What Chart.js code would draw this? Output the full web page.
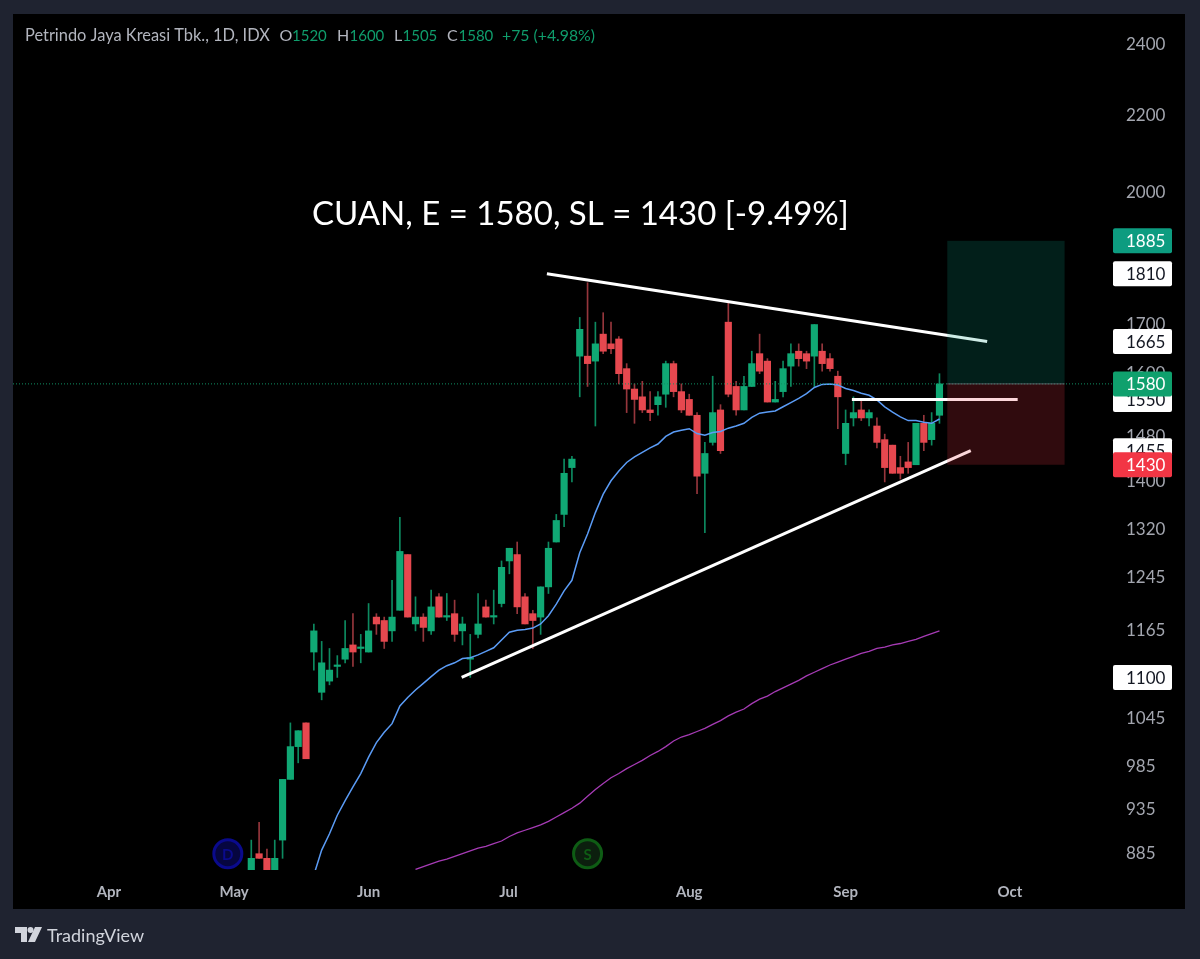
<!DOCTYPE html>
<html>
<head>
<meta charset="utf-8">
<title>CUAN</title>
<script src="https://cdn.jsdelivr.net/npm/chart.js@4/dist/chart.umd.min.js"></script>
<style>
  html, body { margin: 0; padding: 0; background: #1f2330; }
  canvas { display: block; }
</style>
</head>
<body>
<canvas id="chart" width="1200" height="959"></canvas>
<script>
// daily bars, left to right
const opens = [860,885,880,860,900,970,1010,1040,1135,1080,1095,1115,1125,1145,1140,1135,1185,1180,1165,1195,1280,1175,1185,1165,1215,1185,1190,1165,1125,1160,1200,1185,1205,1270,1280,1215,1190,1185,1230,1300,1345,1425,
  1635,1635,1625,1680,1660,1670,1610,1570,1555,1530,1540,1560,1620,1565,1550,1520,1415,1470,1530,1705,1575,1530,1575,1640,1625,1545,1565,1615,1645,1640,1635,1645,1630,1595,1450,1515,1530,1515,1500,1475,1465,1425,1435,1430,1505,1475,1520];
const highs = [900,920,890,900,970,1040,1030,1040,1175,1150,1140,1130,1180,1190,1160,1205,1190,1185,1240,1340,1280,1215,1190,1225,1220,1220,1210,1185,1160,1220,1210,1225,1270,1290,1300,1220,1195,1230,1300,1345,1440,1445,
  1715,1790,1705,1725,1705,1675,1620,1580,1585,1565,1565,1625,1625,1580,1560,1525,1470,1595,1540,1745,1585,1595,1645,1680,1630,1585,1625,1660,1660,1645,1700,1660,1640,1605,1530,1555,1550,1530,1515,1485,1465,1445,1470,1505,1520,1525,1600];
const lows = [855,880,855,855,880,970,990,995,1110,1070,1090,1100,1120,1115,1120,1135,1160,1140,1150,1195,1185,1165,1150,1160,1185,1180,1150,1145,1100,1155,1185,1175,1200,1250,1190,1175,1140,1160,1220,1300,1325,1400,
  1555,1575,1500,1640,1640,1580,1525,1505,1525,1510,1520,1535,1555,1525,1520,1380,1315,1465,1450,1555,1520,1530,1575,1600,1545,1545,1555,1575,1615,1610,1575,1605,1605,1495,1430,1500,1510,1500,1460,1400,1415,1405,1415,1430,1455,1465,1505];
const closes = [880,880,860,880,970,1010,1030,995,1165,1120,1110,1115,1140,1135,1140,1165,1175,1150,1185,1285,1185,1185,1170,1200,1185,1185,1160,1175,1125,1175,1185,1185,1260,1290,1200,1175,1180,1230,1290,1335,1415,1440,
  1690,1620,1660,1645,1650,1600,1570,1550,1530,1525,1555,1620,1565,1530,1520,1410,1450,1525,1455,1560,1530,1575,1620,1605,1545,1550,1610,1640,1630,1625,1700,1620,1610,1555,1505,1525,1515,1525,1470,1425,1415,1415,1425,1505,1470,1505,1580];

// moving averages, first value sits on bar maFastStart / maSlowStart
const maFastStart = 8;
const maFast = [862,889,907,928,945,961,977,997,1015,1028,1039,1062,1073,1083,1092,1101,1110,1116,1120,1126,1127,1131,1136,1141,1152,1163,1166,1167,1169,1175,1187,1204,1224,1240,1283,1313,1348,1379,1402,1419,1434,1444,1452,1460,1467,1481,1489,1492,1495,1486,1483,1488,1490,1496,1500,1505,1516,1524,1526,1528,1536,1544,1552,1561,1573,1579,1580,1578,1571,1567,1562,1558,1549,1536,1526,1517,1510,1510,1507,1505,1513];
const maSlowStart = 21;
const maSlow = [868,871,874,877,879,882,885,888,891,893,896,899,904,908,911,914,917,921,926,931,936,942,950,958,965,972,977,983,988,993,999,1004,1010,1017,1022,1025,1029,1033,1038,1043,1049,1054,1058,1065,1071,1075,1081,1086,1091,1096,1102,1107,1112,1117,1121,1125,1129,1133,1136,1140,1142,1145,1147,1150,1153,1157,1161,1165];

const priceTicks = [2400,2200,2000,1700,1600,1480,1400,1320,1245,1165,1045,985,935,885];
const monthLabels = ["Apr","May","Jun","Jul","Aug","Sep","Oct"];
const monthBars = [-18.2,-2.2,15,32.9,56,76,97];

const lastPrice = 1580, stopPrice = 1430, targetPrice = 1885;
const whiteTags = [1810,1665,1550,1455,1100];
const upperLine = [[37.8,1810],[94.1,1665]];
const lowerLine = [[26.9,1100],[92,1455]];
const shelfLine = [[76.8,1550],[98,1550]];
const positionBars = [89,104];

const GREEN = "#10a874", RED = "#e6484f";
const GREEN_WICK = "#0d8a60", RED_WICK = "#96363c";
const FONT = "Lato, 'Open Sans', sans-serif";

const xMin = -30.47, xMax = 110.19, yMin = 867.4, yMax = 2493.6;

const barColor = opens.map((o, i) => closes[i] >= o ? GREEN : RED);
const wickColor = opens.map((o, i) => closes[i] >= o ? GREEN_WICK : RED_WICK);
const toPoints = pairs => pairs.map(p => ({ x: p[0], y: p[1] }));

function lineSet(data, color, width, order, extra) {
  return Object.assign({
    type: "line", data, borderColor: color, borderWidth: width,
    pointRadius: 0, tension: 0, order,
  }, extra);
}

const frame = {
  id: "frame",
  beforeDraw(chart) {
    const c = chart.ctx;
    c.save();
    c.fillStyle = "#1f2330";
    c.fillRect(0, 0, 1200, 959);
    c.fillStyle = "#000";
    c.fillRect(13, 14, 1172, 895);
    c.restore();
  },
  afterDatasetsDraw(chart) {
    const c = chart.ctx, x = chart.scales.x, y = chart.scales.y;
    const l = x.getPixelForValue(positionBars[0]);
    const w = x.getPixelForValue(positionBars[1]) - l;
    const top = y.getPixelForValue(targetPrice);
    const mid = y.getPixelForValue(lastPrice);
    const bot = y.getPixelForValue(stopPrice);
    c.save();
    c.fillStyle = "rgba(8,153,129,0.2)";
    c.fillRect(l, top, w, mid - top);
    c.fillStyle = "rgba(242,54,69,0.2)";
    c.fillRect(l, mid, w, bot - mid);
    c.fillStyle = "#5a5d63";
    c.fillRect(l, mid - 0.5, w, 1);
    c.restore();
  },
  afterDraw(chart) {
    const c = chart.ctx, x = chart.scales.x, y = chart.scales.y;
    c.save();

    // header
    c.textBaseline = "alphabetic";
    const grey = "#b2b5be", up = "#0f9d6c";
    [["Petrindo Jaya Kreasi Tbk., 1D, IDX",25,grey,16.4],["O",279.5,grey,16],["1520",292,up,15],["H",337,grey,16],["1600",349.5,up,15],
     ["L",394,grey,16],["1505",402.5,up,15],["C",447,grey,16],["1580",458.5,up,15],["+75 (+4.98%)",502,up,15.8]].forEach(t => {
      c.fillStyle = t[2];
      c.font = t[3] + "px " + FONT;
      c.fillText(t[0], t[1], 41);
    });

    // headline
    c.fillStyle = "#fff";
    c.font = "33px " + FONT;
    c.fillText("CUAN, E = 1580, SL = 1430 [-9.49%]", 312, 225);

    // D and S marks
    [[-3,"D","#0a0a8c","#060640"],[43,"S","#0e5c14","#0c1f0e"]].forEach(m => {
      const px = x.getPixelForValue(m[0]), py = y.getPixelForValue(885);
      c.beginPath();
      c.arc(px, py, 14, 0, Math.PI * 2);
      c.fillStyle = m[3];
      c.fill();
      c.lineWidth = 3;
      c.strokeStyle = m[2];
      c.stroke();
      c.fillStyle = m[2];
      c.font = "bold 15px " + FONT;
      c.textAlign = "center";
      c.textBaseline = "middle";
      c.fillText(m[1], px, py + 1);
    });

    // price tags
    c.textAlign = "left";
    c.textBaseline = "middle";
    c.font = "17px " + FONT;
    const tag = (v, bg, fg) => {
      const py = y.getPixelForValue(v);
      c.fillStyle = bg;
      c.beginPath();
      c.roundRect(1113, py - 12.5, 59, 25, 2);
      c.fill();
      c.fillStyle = fg;
      c.fillText(String(v), 1126, py + 1);
    };
    whiteTags.forEach(v => tag(v, "#fff", "#131722"));
    tag(targetPrice, "#0d9c80", "#fff");
    tag(lastPrice, "#0fa06d", "#fff");
    tag(stopPrice, "#f23645", "#fff");

    // logo
    c.fillStyle = "#d1d4dc";
    c.beginPath();
    c.moveTo(15, 927); c.lineTo(27, 927); c.lineTo(27, 942); c.lineTo(21, 942); c.lineTo(21, 933); c.lineTo(15, 933);
    c.closePath();
    c.fill();
    c.beginPath();
    c.arc(30.5, 930, 3, 0, Math.PI * 2);
    c.fill();
    c.beginPath();
    c.moveTo(35, 927); c.lineTo(42, 927); c.lineTo(35, 942); c.lineTo(28, 942);
    c.closePath();
    c.fill();
    c.font = "18px " + FONT;
    c.textBaseline = "middle";
    c.fillText("TradingView", 47, 936);
    c.restore();
  },
};

new Chart(document.getElementById("chart"), {
  type: "bar",
  data: {
    datasets: [
      { data: opens.map((o, i) => ({ x: i, y: [lows[i], highs[i]] })), backgroundColor: wickColor,
        barThickness: 1, grouped: false, order: 6 },
      { data: opens.map((o, i) => ({ x: i, y: [o, closes[i]] })), backgroundColor: barColor,
        barThickness: 6.5, minBarLength: 1.5, grouped: false, order: 5 },
      lineSet(maFast.map((v, i) => ({ x: i + maFastStart, y: v })), "#5b9cf6", 1.5, 4),
      lineSet(maSlow.map((v, i) => ({ x: i + maSlowStart, y: v })), "#a63bb5", 1.3, 4),
      lineSet([{ x: xMin, y: lastPrice }, { x: xMax, y: lastPrice }], "#0f8f63", 1, 3, { borderDash: [1, 2] }),
      lineSet(toPoints(upperLine), "#fff", 3, 2),
      lineSet(toPoints(lowerLine), "#fff", 3, 2),
      lineSet(toPoints(shelfLine), "#fff", 3, 2),
    ],
  },
  options: {
    responsive: false,
    animation: false,
    layout: { padding: { left: 13, top: 14, right: 0, bottom: 0 } },
    plugins: { legend: { display: false }, tooltip: { enabled: false } },
    scales: {
      x: {
        type: "linear", min: xMin, max: xMax, offset: false,
        grid: { display: false, drawTicks: false },
        border: { display: false },
        afterBuildTicks: s => { s.ticks = monthBars.map(v => ({ value: v })); },
        afterFit: s => { s.height = 89; },
        ticks: {
          autoSkip: false, maxRotation: 0, padding: 13, color: "#b2b5be",
          font: { family: FONT, size: 15, weight: "bold" },
          callback: (v, i) => monthLabels[i],
        },
      },
      y: {
        type: "logarithmic", position: "right", min: yMin, max: yMax,
        // a big ticks.padding would push the plot top down, so the gap comes from an invisible tick mark
        grid: { drawOnChartArea: false, tickLength: 10, tickColor: "transparent", color: "transparent" },
        border: { display: false },
        afterBuildTicks: s => { s.ticks = priceTicks.map(v => ({ value: v })); },
        afterFit: s => { s.width = 87; },
        ticks: {
          autoSkip: false, padding: 3, color: "#a3a6af",
          font: { family: FONT, size: 17 },
          callback: v => String(v),
        },
      },
    },
  },
  plugins: [frame],
});
</script>
</body>
</html>
